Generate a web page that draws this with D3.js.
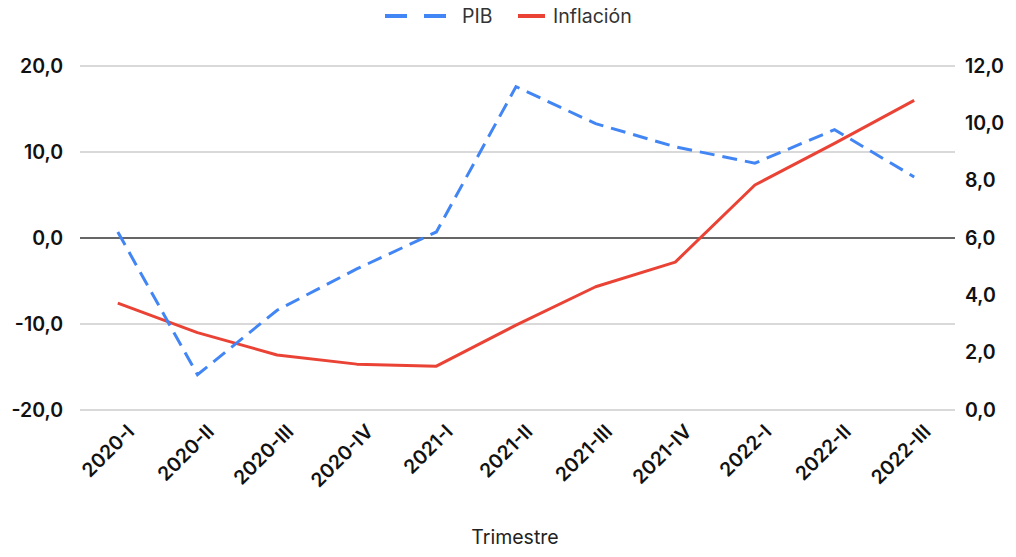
<!DOCTYPE html>
<html><head><meta charset="utf-8">
<script src="https://cdn.jsdelivr.net/npm/d3@7"></script>
<style>body{margin:0;background:#fff}svg{display:block}</style>
</head><body><svg id="c" width="1016" height="557"></svg>
<script>
const categories = ["2020-I","2020-II","2020-III","2020-IV","2021-I","2021-II","2021-III","2021-IV","2022-I","2022-II","2022-III"];
const pib = [0.7,-15.9,-8.4,-3.6,0.7,17.6,13.3,10.6,8.7,12.6,7.1];
const inflacion = [3.73,2.7,1.92,1.6,1.53,2.96,4.3,5.16,7.85,9.3,10.8];
const leftTicks = [-20,-10,0,10,20];
const rightTicks = [0,2,4,6,8,10,12];
const seriesNames = ["PIB","Inflación"];

const svg = d3.select("#c");
const L = 78, R = 954, T = 66, B = 410;
const font = "Inter, sans-serif";
const x = d3.scalePoint().domain(categories).range([L, R]).padding(0.5);
const yL = d3.scaleLinear().domain([-20,20]).range([B,T]);
const yR = d3.scaleLinear().domain([0,12]).range([B,T]);
const fmt = v => d3.format(".1f")(v).replace(".", ",").replace("\u2212", "-");

// gridlines
svg.append("g").selectAll("line").data(leftTicks).join("line")
  .attr("x1", L+2).attr("x2", R+1)
  .attr("y1", d=>yL(d)).attr("y2", d=>yL(d))
  .attr("stroke", d=> d===0 ? "#333" : "#cccccc")
  .attr("stroke-width", d=> d===0 ? 1.5 : 1.3);

// left axis
const ga = svg.append("g").attr("transform", `translate(${L},0)`)
  .call(d3.axisLeft(yL).tickValues(leftTicks).tickFormat(fmt).tickSize(0).tickPadding(15));
ga.select(".domain").remove();
ga.selectAll("text").attr("font-family", font).attr("font-weight", 600).attr("font-size", 19.5).attr("fill","#111");

const gr = svg.append("g").attr("transform", `translate(${R},0)`)
  .call(d3.axisRight(yR).tickValues(rightTicks).tickFormat(fmt).tickSize(0).tickPadding(11));
gr.select(".domain").remove();
gr.selectAll("text").attr("font-family", font).attr("font-weight", 600).attr("font-size", 19.5).attr("fill","#111");

// x labels
svg.append("g").selectAll("text").data(categories).join("text")
  .attr("transform", d=>`translate(${x(d)+13},${428}) rotate(-45)`)
  .attr("text-anchor","end").attr("dy","0.35em")
  .attr("font-family", font).attr("font-weight", 600).attr("font-size", 19.5).attr("fill","#111")
  .text(d=>d);

// lines
const lineL = d3.line().x((d,i)=>x(categories[i])).y(d=>yL(d));
const lineR = d3.line().x((d,i)=>x(categories[i])).y(d=>yR(d));
svg.append("path").attr("d", lineR(inflacion)).attr("fill","none")
  .attr("stroke","#EA4335").attr("stroke-width",3).attr("stroke-linejoin","round");
svg.append("path").attr("d", lineL(pib)).attr("fill","none")
  .attr("stroke","#4285F4").attr("stroke-width",3).attr("stroke-dasharray","15,8");

// legend
const lg = svg.append("g");
lg.append("line").attr("x1",385).attr("x2",446).attr("y1",16).attr("y2",16)
  .attr("stroke","#4285F4").attr("stroke-width",4).attr("stroke-dasharray","22,17");
lg.append("text").attr("x",462).attr("y",16).attr("dy","0.35em").text(seriesNames[0])
  .attr("font-family", font).attr("font-size",19.5).attr("fill","#333");
lg.append("line").attr("x1",518).attr("x2",545).attr("y1",16).attr("y2",16)
  .attr("stroke","#EA4335").attr("stroke-width",4);
lg.append("text").attr("x",553).attr("y",16).attr("dy","0.35em").text(seriesNames[1])
  .attr("font-family", font).attr("font-size",19.5).attr("fill","#333");

// axis title
svg.append("text").attr("x",515).attr("y",537).attr("dy","0.35em").attr("text-anchor","middle")
  .attr("font-family", font).attr("font-size",19.5).attr("fill","#222").text("Trimestre");
</script></body></html>
